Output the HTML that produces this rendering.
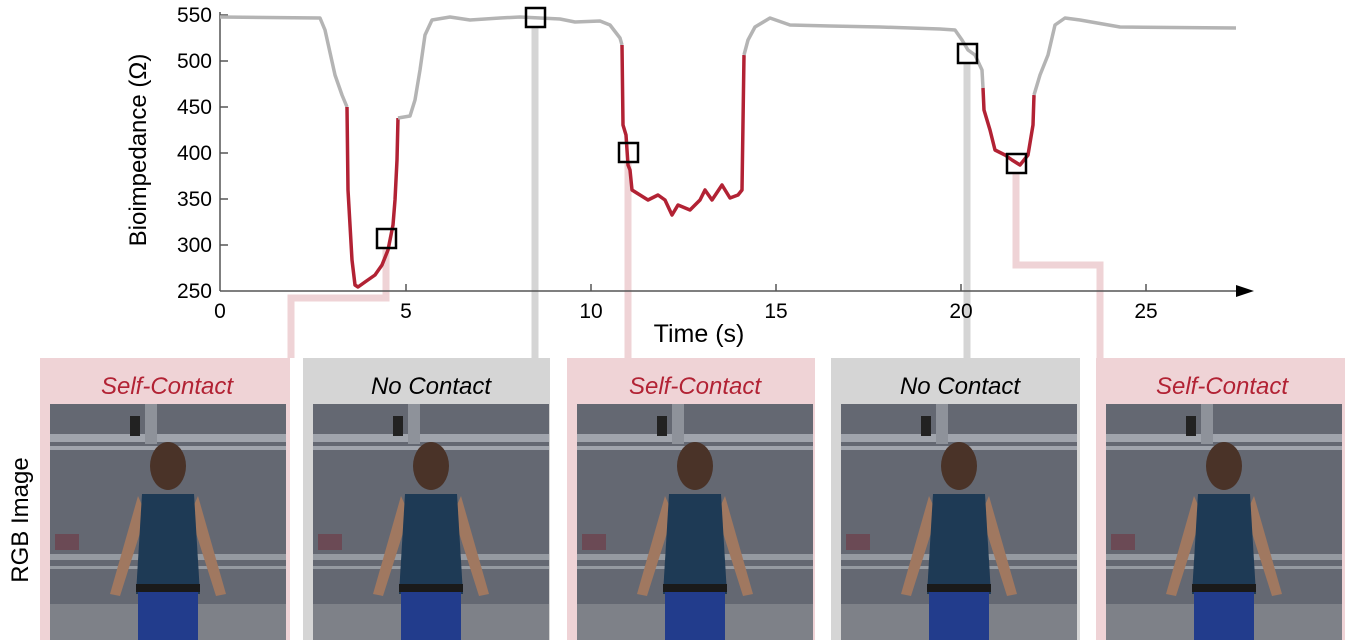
<!DOCTYPE html>
<html><head><meta charset="utf-8"><style>
body{margin:0;background:#fff;width:1345px;height:640px;overflow:hidden}
svg{display:block;font-family:"Liberation Sans",sans-serif}
</style></head><body>
<svg width="1345" height="640" viewBox="0 0 1345 640">
<defs>
<g id="photo">
<rect x="0" y="0" width="236" height="238" fill="#646872"/>
<rect x="0" y="200" width="236" height="38" fill="#7e8188"/>
<rect x="0" y="30" width="236" height="8" fill="#a0a4ac"/>
<rect x="0" y="42" width="236" height="4" fill="#a0a4ac"/>
<rect x="0" y="150" width="236" height="6" fill="#959aa1"/>
<rect x="0" y="162" width="236" height="3" fill="#959aa1"/>
<rect x="95" y="0" width="12" height="40" fill="#8e929a"/>
<rect x="80" y="12" width="10" height="20" fill="#222"/>
<rect x="5" y="130" width="24" height="16" fill="#6b4a55"/>
<path d="M88 92 L60 190 L70 192 L96 110 Z" fill="#a07860"/>
<path d="M148 92 L176 190 L166 192 L140 110 Z" fill="#a07860"/>
<ellipse cx="118" cy="62" rx="18" ry="24" fill="#4a3328"/>
<path d="M92 90 L144 90 L150 190 L86 190 Z" fill="#1e3a55"/>
<rect x="88" y="188" width="60" height="50" fill="#223c8c"/>
<rect x="86" y="180" width="64" height="8" fill="#1a1a1a"/>
</g>
</defs>
<!-- panels -->
<rect x="40" y="358" width="250" height="282" fill="#efd3d6"/>
<rect x="303" y="358" width="247" height="282" fill="#d5d5d5"/>
<rect x="567" y="358" width="248" height="282" fill="#efd3d6"/>
<rect x="831" y="358" width="249" height="282" fill="#d5d5d5"/>
<rect x="1096" y="358" width="249" height="282" fill="#efd3d6"/>
<use href="#photo" x="50" y="404"/>
<use href="#photo" x="313" y="404"/>
<use href="#photo" x="577" y="404"/>
<use href="#photo" x="841" y="404"/>
<use href="#photo" x="1106" y="404"/>
<g font-style="italic" font-size="24" text-anchor="middle">
<text x="167" y="394" fill="#b22234">Self-Contact</text>
<text x="431" y="394" fill="#000">No Contact</text>
<text x="695" y="394" fill="#b22234">Self-Contact</text>
<text x="960" y="394" fill="#000">No Contact</text>
<text x="1222" y="394" fill="#b22234">Self-Contact</text>
</g>
<!-- connectors -->
<g fill="none" stroke-width="7">
<path d="M386 247 V298 H291 V358" stroke="#efd3d6"/>
<path d="M535 26 V358" stroke="#d5d5d5"/>
<path d="M628 161 V358" stroke="#efd3d6"/>
<path d="M967 62 V358" stroke="#d5d5d5"/>
<path d="M1016 172 V265 H1100 V358" stroke="#efd3d6"/>
</g>
<!-- axes -->
<g stroke="#555" stroke-width="1.5">
<line x1="220" y1="12" x2="220" y2="291"/>
<line x1="220" y1="291" x2="1238" y2="291"/>
<line x1="220" y1="15" x2="228" y2="15"/><line x1="220" y1="61" x2="228" y2="61"/><line x1="220" y1="107" x2="228" y2="107"/><line x1="220" y1="153" x2="228" y2="153"/><line x1="220" y1="199" x2="228" y2="199"/><line x1="220" y1="245" x2="228" y2="245"/>
<line x1="406" y1="291" x2="406" y2="284"/><line x1="591" y1="291" x2="591" y2="284"/><line x1="776" y1="291" x2="776" y2="284"/><line x1="961" y1="291" x2="961" y2="284"/><line x1="1146" y1="291" x2="1146" y2="284"/>
</g>
<path d="M1236 285 L1254 291 L1236 297 Z" fill="#000"/>
<g font-size="21" text-anchor="end">
<text x="212" y="22">550</text><text x="212" y="68">500</text><text x="212" y="114">450</text><text x="212" y="160">400</text><text x="212" y="206">350</text><text x="212" y="252">300</text><text x="212" y="298">250</text>
</g>
<g font-size="21" text-anchor="middle">
<text x="220" y="318">0</text><text x="406" y="318">5</text><text x="591" y="318">10</text><text x="776" y="318">15</text><text x="961" y="318">20</text><text x="1146" y="318">25</text>
</g>
<text x="699" y="342" font-size="25" text-anchor="middle">Time (s)</text>
<text transform="translate(146,150) rotate(-90)" font-size="24" text-anchor="middle">Bioimpedance (Ω)</text>
<text transform="translate(28,520) rotate(-90)" font-size="24" text-anchor="middle">RGB Image</text>
<!-- curve -->
<g fill="none" stroke-width="3.5" stroke-linejoin="round">
<polyline stroke="#b4b4b4" points="220,17 320,18 325,30 335,75 342,95 347,107"/>
<polyline stroke="#b22234" points="347,107 348,190 352,260 355,285 358,287 365,282 375,275 382,265 388,250 393,225 395,200 397,160 398,118"/>
<polyline stroke="#b4b4b4" points="398,118 410,116 415,100 420,70 425,35 432,20 450,17 470,20 500,18 520,17 560,19 575,22 600,21 610,25 620,38 622,45"/>
<polyline stroke="#b22234" points="622,45 623,125 626,135 628,165 630,170 632,190 640,195 648,200 658,195 665,200 672,215 678,205 690,210 700,200 705,190 712,200 722,185 730,198 738,195 742,190 744,55"/>
<polyline stroke="#b4b4b4" points="744,55 748,40 755,27 770,18 790,25 830,26 880,27 940,29 955,30 962,40 968,50 975,55 982,70 983,88"/>
<polyline stroke="#b22234" points="983,88 984,110 990,130 995,150 1005,155 1012,160 1020,165 1028,155 1033,125 1034,95"/>
<polyline stroke="#b4b4b4" points="1034,95 1040,75 1048,55 1055,25 1065,18 1080,20 1120,27 1236,28"/>
</g>
<g fill="none" stroke="#000" stroke-width="2.5">
<rect x="377" y="229" width="19" height="19"/>
<rect x="526" y="8" width="19" height="19"/>
<rect x="619" y="143" width="19" height="19"/>
<rect x="958" y="44" width="19" height="19"/>
<rect x="1007" y="154" width="19" height="19"/>
</g>
</svg>
</body></html>
